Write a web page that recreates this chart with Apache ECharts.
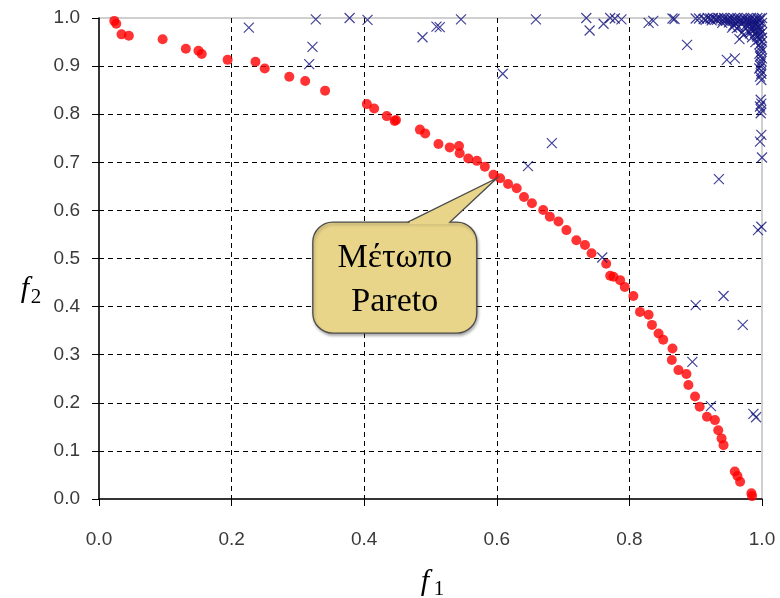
<!DOCTYPE html>
<html>
<head>
<meta charset="utf-8">
<script src="https://cdn.jsdelivr.net/npm/echarts@6/dist/echarts.min.js"></script>
<style>
  html, body { margin: 0; padding: 0; background: #ffffff; }
  #chart { width: 780px; height: 598px; }
</style>
</head>
<body>
<div id="chart"></div>
<script>
// Tick labels for both objectives
const xTickLabels = ['0.0', '0.2', '0.4', '0.6', '0.8', '1.0'];
const yTickLabels = ['0.0', '0.1', '0.2', '0.3', '0.4', '0.5', '0.6', '0.7', '0.8', '0.9', '1.0'];

// Non-dominated solutions (f1, f2)
const paretoFront = [
  [0.023, 0.994], [0.026, 0.988], [0.034, 0.966], [0.045, 0.963], [0.096, 0.956],
  [0.131, 0.936], [0.150, 0.932], [0.155, 0.925], [0.194, 0.913], [0.236, 0.909],
  [0.250, 0.895], [0.287, 0.878], [0.311, 0.869], [0.341, 0.849], [0.404, 0.821],
  [0.415, 0.812], [0.434, 0.796], [0.446, 0.786], [0.448, 0.788], [0.484, 0.768],
  [0.492, 0.760], [0.512, 0.738], [0.529, 0.731], [0.543, 0.734], [0.544, 0.719],
  [0.557, 0.708], [0.570, 0.703], [0.582, 0.691], [0.595, 0.674], [0.605, 0.667],
  [0.617, 0.655], [0.630, 0.646], [0.641, 0.628], [0.653, 0.615], [0.670, 0.601],
  [0.680, 0.587], [0.693, 0.577], [0.705, 0.559], [0.720, 0.538], [0.733, 0.528],
  [0.743, 0.511], [0.765, 0.489], [0.771, 0.464], [0.776, 0.462], [0.786, 0.455],
  [0.793, 0.441], [0.806, 0.422], [0.816, 0.389], [0.829, 0.383], [0.834, 0.362],
  [0.844, 0.344], [0.851, 0.331], [0.865, 0.313], [0.864, 0.289], [0.874, 0.268],
  [0.886, 0.260], [0.889, 0.237], [0.899, 0.213], [0.906, 0.192], [0.917, 0.171],
  [0.929, 0.164], [0.934, 0.143], [0.939, 0.126], [0.942, 0.112], [0.959, 0.057],
  [0.963, 0.048], [0.967, 0.036], [0.984, 0.012], [0.985, 0.006]
];

// Dominated solutions (f1, f2)
const dominated = [
  [0.226, 0.980], [0.327, 0.997], [0.322, 0.940], [0.317, 0.904], [0.378, 1.000],
  [0.405, 0.996], [0.488, 0.960], [0.509, 0.982], [0.514, 0.981], [0.546, 0.997],
  [0.609, 0.884], [0.659, 0.997], [0.735, 1.000], [0.740, 0.974], [0.761, 0.988],
  [0.771, 1.000], [0.778, 0.999], [0.788, 0.997], [0.829, 0.990], [0.836, 0.994],
  [0.865, 0.999], [0.868, 0.998], [0.887, 0.944], [0.900, 0.999], [0.947, 0.913],
  [0.959, 0.916], [0.683, 0.740], [0.647, 0.692], [0.935, 0.665], [0.759, 0.502],
  [0.900, 0.403], [0.942, 0.422], [0.971, 0.362], [0.895, 0.285], [0.923, 0.193],
  [0.987, 0.177], [0.991, 0.170], [0.994, 0.559], [0.999, 0.566], [0.999, 0.757],
  [0.997, 0.743], [1.000, 0.710],
  // crowded corner near (1, 1)
  [0.905, 0.999], [0.912, 0.998], [0.918, 1.000], [0.922, 0.999], [0.926, 1.000],
  [0.930, 0.998], [0.934, 1.000], [0.938, 0.999], [0.943, 1.000], [0.948, 0.998],
  [0.953, 1.000], [0.958, 0.999], [0.963, 1.000], [0.968, 0.998], [0.973, 1.000],
  [0.978, 0.999], [0.983, 1.000], [0.988, 0.998], [0.993, 1.000], [0.997, 0.999],
  [1.000, 1.000], [0.940, 0.990], [0.950, 0.991], [0.960, 0.989], [0.970, 0.990],
  [0.980, 0.991], [0.990, 0.989], [1.000, 0.990], [0.955, 0.980], [0.965, 0.981],
  [0.975, 0.979], [0.985, 0.980], [0.995, 0.981], [0.970, 0.970], [0.980, 0.971],
  [0.990, 0.969], [1.000, 0.970], [0.985, 0.960], [0.993, 0.961], [1.000, 0.959],
  [0.990, 0.950], [1.000, 0.951], [0.962, 0.979], [0.972, 0.965], [0.966, 0.956],
  [0.982, 0.968], [0.957, 0.985], [0.998, 0.940], [0.999, 0.930], [0.997, 0.920],
  [0.999, 0.910], [0.998, 0.900], [0.999, 0.890], [0.997, 0.878], [0.999, 0.871],
  [0.998, 0.830], [0.999, 0.822], [0.997, 0.816], [0.999, 0.809], [0.998, 0.802],
  [0.915, 0.996], [0.924, 0.995], [0.932, 0.996], [0.941, 0.995], [0.946, 0.994],
  [0.951, 0.996], [0.956, 0.994], [0.961, 0.995], [0.966, 0.993], [0.971, 0.995],
  [0.976, 0.994], [0.981, 0.995], [0.986, 0.993], [0.991, 0.995], [0.996, 0.994],
  [0.976, 0.985], [0.981, 0.984], [0.986, 0.986], [0.991, 0.984], [0.996, 0.985],
  [0.984, 0.975], [0.989, 0.976], [0.994, 0.974], [0.998, 0.976], [0.992, 0.964],
  [0.997, 0.966], [0.995, 0.955], [0.997, 0.946], [0.999, 0.936], [0.996, 0.926],
  [1.000, 0.916], [0.998, 0.905], [0.996, 0.895], [0.999, 0.884]
];

// Callout text and the point it refers to
const calloutLines = ['Μέτωπο', 'Pareto'];
const calloutTarget = [0.6, 0.667];

const chart = echarts.init(document.getElementById('chart'), null, { renderer: 'canvas' });

const tickFont = {
  color: '#3a3a3a',
  fontFamily: 'Liberation Sans',
  fontSize: 19
};

const dashGrid = {
  show: true,
  showMinLine: false,
  showMaxLine: false,
  lineStyle: { color: '#000000', type: [5, 4], width: 1 }
};

chart.setOption({
  animation: false,
  backgroundColor: '#ffffff',
  grid: {
    left: 99, right: 18, top: 18, bottom: 99,
    show: true, borderColor: '#a0a0a0', borderWidth: 1,
    containLabel: false
  },
  xAxis: {
    type: 'value', min: 0, max: 1, interval: 0.2,
    axisLine: { show: true, onZero: false, lineStyle: { color: '#000000', width: 1.5 } },
    axisTick: { show: true, length: 7, lineStyle: { color: '#000000', width: 1 } },
    axisLabel: Object.assign({
      margin: 31,
      formatter: v => xTickLabels[Math.round(v / 0.2)]
    }, tickFont),
    splitLine: dashGrid
  },
  yAxis: {
    type: 'value', min: 0, max: 1, interval: 0.1,
    axisLine: { show: true, onZero: false, lineStyle: { color: '#000000', width: 1.5 } },
    axisTick: { show: true, length: 7, lineStyle: { color: '#000000', width: 1 } },
    axisLabel: Object.assign({
      margin: 19,
      formatter: v => yTickLabels[Math.round(v / 0.1)]
    }, tickFont),
    splitLine: dashGrid
  },
  series: [
    {
      name: 'pareto',
      type: 'scatter',
      data: paretoFront,
      symbol: 'circle',
      symbolSize: 10,
      itemStyle: { color: '#ff0000' },
      z: 2
    },
    {
      name: 'dominated',
      type: 'scatter',
      data: dominated,
      symbol: 'path://M0 0L10 10M10 0L0 10',
      symbolSize: 10,
      itemStyle: { color: 'rgba(0,0,0,0)', borderColor: '#14147f', borderWidth: 1.2 },
      z: 3
    }
  ]
});

// Speech-bubble callout pointing at the front: rounded box + pointer wedge
const tip = chart.convertToPixel({ gridIndex: 0 }, calloutTarget);
const L = -184, R = -20, T = 44, B = 155, p1 = -89, p2 = -47;
const at = (x, y) => [tip[0] + x, tip[1] + y];
const cx = tip[0] + (L + R) / 2;
const bubbleFill = '#e8d58a';
const bubbleStroke = '#4a4a4a';

const serif = 'Liberation Serif';
chart.setOption({
  graphic: [
    {
      type: 'rect', z: 10,
      shape: { x: tip[0] + L, y: tip[1] + T, width: R - L, height: B - T, r: 20 },
      style: {
        fill: bubbleFill, stroke: bubbleStroke, lineWidth: 1.3,
        shadowBlur: 3, shadowOffsetX: 1, shadowOffsetY: 2,
        shadowColor: 'rgba(0,0,0,0.3)'
      }
    },
    {
      type: 'polyline', z: 11,
      shape: { points: [at(p1, T), at(0, 0), at(p2, T)] },
      style: { fill: bubbleFill, stroke: bubbleStroke, lineWidth: 1.3 }
    },
    {
      type: 'polygon', z: 12,
      shape: { points: [at(p1 + 2.5, T - 0.8), at(p2 - 1.5, T - 0.8), at(p2 - 1, T + 2), at(p1 + 1.5, T + 2)] },
      style: { fill: bubbleFill }
    },
    {
      type: 'text', z: 13, x: cx, y: tip[1] + 80,
      style: { text: calloutLines[0], fill: '#000', font: '34px "' + serif + '"', align: 'center', verticalAlign: 'middle' }
    },
    {
      type: 'text', z: 13, x: cx, y: tip[1] + 124,
      style: { text: calloutLines[1], fill: '#000', font: '34px "' + serif + '"', align: 'center', verticalAlign: 'middle' }
    },
    {
      type: 'text', z: 13, x: 425, y: 582,
      style: { text: 'f', fill: '#000', font: 'italic 30px "' + serif + '"', align: 'center', verticalAlign: 'middle' }
    },
    {
      type: 'text', z: 13, x: 439, y: 589,
      style: { text: '1', fill: '#000', font: '21px "' + serif + '"', align: 'center', verticalAlign: 'middle' }
    },
    {
      type: 'text', z: 13, x: 25, y: 289,
      style: { text: 'f', fill: '#000', font: 'italic 30px "' + serif + '"', align: 'center', verticalAlign: 'middle' }
    },
    {
      type: 'text', z: 13, x: 36, y: 297,
      style: { text: '2', fill: '#000', font: '21px "' + serif + '"', align: 'center', verticalAlign: 'middle' }
    }
  ]
});
</script>
</body>
</html>
